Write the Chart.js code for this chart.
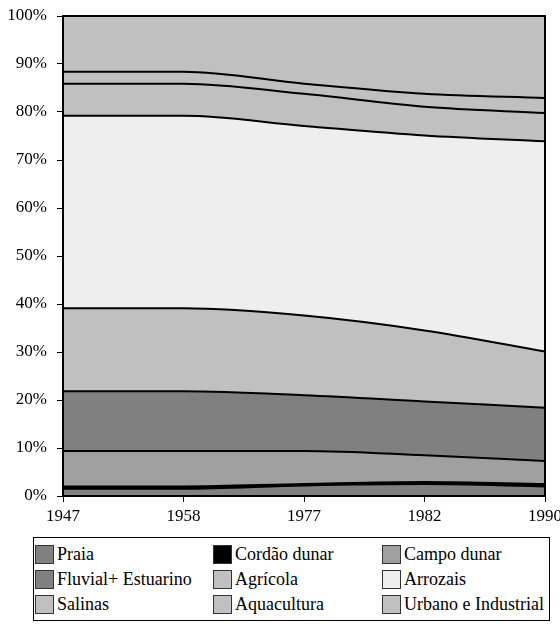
<!DOCTYPE html>
<html>
<head>
<meta charset="utf-8">
<script src="https://cdn.jsdelivr.net/npm/chart.js@4.4.1/dist/chart.umd.min.js"></script>
<style>
  body { margin: 0; background: #fff; }
  #wrap { position: relative; width: 560px; height: 624px; }
  #chartBox { position: absolute; left: 0; top: 0; width: 560px; height: 530px; }
  #legend {
    position: absolute; left: 33px; top: 537px; width: 517px; height: 84px;
    border: 1px solid #000; box-sizing: border-box;
    font-family: "Liberation Serif", "Times New Roman", serif; font-size: 18px; color: #000;
    display: grid; grid-template-columns: 178px 169px 168px; grid-auto-rows: 25px;
    padding: 4px 0 0 1px;
  }
  .item { display: flex; align-items: center; white-space: nowrap; }
  .sw { width: 19px; height: 19px; border: 1px solid #333; box-sizing: border-box; margin-right: 3px; flex: none; }
</style>
</head>
<body>
<div id="wrap">
  <div id="chartBox"><canvas id="myChart"></canvas></div>
  <div id="legend"></div>
</div>
<script>
let years = ['1947', '1958', '1977', '1982', '1990'];
let names = ['Praia', 'Cordão dunar', 'Campo dunar', 'Fluvial+ Estuarino', 'Agrícola',
             'Arrozais', 'Salinas', 'Aquacultura', 'Urbano e Industrial'];
let colorHex = ['#808080', '#000000', '#a0a0a0', '#808080', '#c0c0c0',
                '#eeeeee', '#c0c0c0', '#c0c0c0', '#c0c0c0'];

// percentages
let praia = [1.5, 1.5, 2.2, 2.5, 2.0];
let cordao = [0.5, 0.5, 0.3, 0.4, 0.5];
let campo = [7.4, 7.4, 6.9, 5.6, 4.8];
let fluvial = [12.4, 12.4, 11.6, 11.2, 11.1];
let agricola = [17.3, 17.3, 16.6, 14.8, 11.7];
let arrozais = [40.1, 40.1, 39.5, 40.6, 43.8];
let salinas = [6.7, 6.7, 6.7, 6.0, 5.9];
let aquacultura = [2.5, 2.5, 2.1, 2.7, 3.1];
let urbano = [11.6, 11.6, 14.1, 16.2, 17.1];

let series = [praia, cordao, campo, fluvial, agricola, arrozais, salinas, aquacultura, urbano];
let serif = 'Liberation Serif';

let datasets = series.map((d, i) => ({
    label: names[i],
    data: d,
    backgroundColor: colorHex[i],
    borderColor: '#000',
    borderWidth: 2,
    fill: i === 0 ? 'origin' : '-1',
    pointRadius: 0,
    cubicInterpolationMode: 'monotone'
}));

let boxPlugin = {
    id: 'box',
    afterDraw(chart) {
        let a = chart.chartArea, c = chart.ctx;
        c.save();
        c.strokeStyle = '#000';
        c.lineWidth = 2;
        c.strokeRect(a.left, a.top, a.right - a.left, a.bottom - a.top);
        c.restore();
    }
};

let legend = document.getElementById('legend');
names.forEach((n, i) => {
    let it = document.createElement('div');
    it.className = 'item';
    let sw = document.createElement('span');
    sw.className = 'sw';
    sw.style.background = colorHex[i];
    let t = document.createElement('span');
    t.textContent = n;
    it.appendChild(sw);
    it.appendChild(t);
    legend.appendChild(it);
});

function draw() {
    let ctx = document.getElementById('myChart').getContext('2d');
    new Chart(ctx, {
        type: 'line',
        data: { labels: years, datasets: datasets },
        plugins: [boxPlugin],
        options: {
            responsive: true,
            maintainAspectRatio: false,
            animation: false,
            layout: { padding: { top: 16, right: 15, left: 0, bottom: 0 } },
            plugins: { legend: { display: false }, tooltip: { enabled: false } },
            scales: {
                x: {
                    offset: false,
                    grid: { drawOnChartArea: false, color: '#000', tickLength: 6 },
                    border: { color: '#000', width: 2 },
                    ticks: { color: '#000', font: { family: serif, size: 17 }, padding: 4, maxRotation: 0 },
                    afterFit: (s) => { s.height = 34; s.paddingLeft = 0; s.paddingRight = 0; }
                },
                y: {
                    stacked: true,
                    min: 0,
                    max: 100,
                    grid: { drawOnChartArea: false, color: '#000', tickLength: 6 },
                    border: { color: '#000', width: 2 },
                    ticks: {
                        stepSize: 10,
                        color: '#000',
                        font: { family: serif, size: 17 },
                        padding: 10,
                        callback: (v) => v + '%'
                    },
                    afterFit: (s) => { s.width = 63; s.paddingTop = 0; s.paddingBottom = 0; }
                }
            }
        }
    });
}

document.fonts.load('17px "Liberation Serif"').then(draw, draw);
</script>
</body>
</html>
